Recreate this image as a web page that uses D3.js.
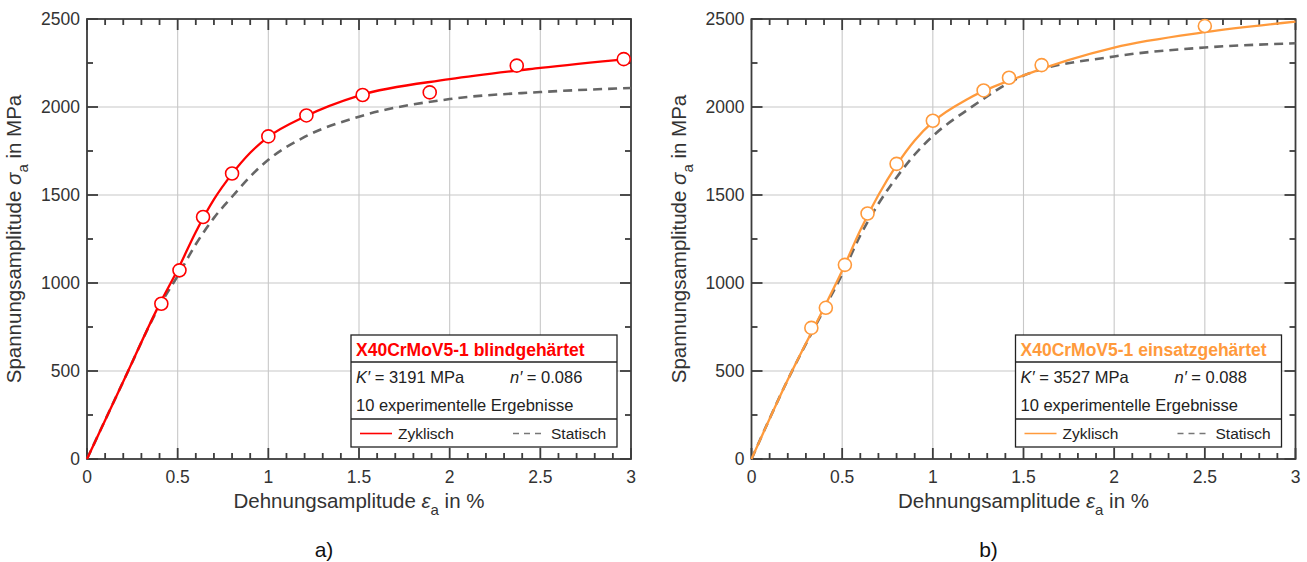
<!DOCTYPE html>
<html>
<head>
<meta charset="utf-8">
<script src="https://cdn.jsdelivr.net/npm/d3@7"></script>
<style>
  body { margin: 0; background: #fff; }
  text { font-family: "Liberation Sans", Arial, sans-serif; }
</style>
</head>
<body>
<script>
// values (strain in %, stress in MPa)
const xTicks = [0, 0.5, 1, 1.5, 2, 2.5, 3]
const yTicks = [0, 500, 1000, 1500, 2000, 2500]

// a) blindgehaertet
const aPointsEps = [0.41, 0.51, 0.64, 0.80, 1.00, 1.21, 1.52, 1.89, 2.37, 2.96]
const aPointsSig = [882, 1072, 1375, 1622, 1833, 1952, 2068, 2083, 2235, 2272]
const aCycEps = [0, 0.2, 0.4, 0.5, 0.6, 0.7, 0.8, 0.9, 1.0, 1.2, 1.5, 2.0, 2.5, 3.0]
const aCycSig = [0, 440, 880, 1075, 1290, 1475, 1620, 1740, 1830, 1945, 2065, 2158, 2222, 2275]
const aStatEps = [0, 0.2, 0.4, 0.5, 0.6, 0.7, 0.8, 0.9, 1.0, 1.2, 1.5, 2.0, 2.5, 3.0]
const aStatSig = [0, 440, 870, 1040, 1220, 1370, 1490, 1605, 1700, 1830, 1945, 2045, 2085, 2108]

// b) einsatzgehaertet
const bPointsEps = [0.33, 0.41, 0.515, 0.64, 0.80, 1.00, 1.28, 1.42, 1.60, 2.50]
const bPointsSig = [745, 859, 1103, 1395, 1677, 1922, 2094, 2166, 2238, 2460]
const bCycEps = [0, 0.2, 0.4, 0.5, 0.6, 0.7, 0.8, 0.9, 1.0, 1.2, 1.5, 2.0, 2.5, 3.0]
const bCycSig = [0, 450, 860, 1070, 1300, 1500, 1670, 1810, 1915, 2050, 2180, 2338, 2425, 2485]
const bStatEps = [0, 0.2, 0.4, 0.5, 0.6, 0.7, 0.8, 0.9, 1.0, 1.2, 1.5, 2.0, 2.5, 3.0]
const bStatSig = [0, 450, 850, 1050, 1270, 1450, 1600, 1730, 1835, 1990, 2178, 2287, 2338, 2362]

const width = 1307, height = 562
const svg = d3.select("body").append("svg").attr("width", width).attr("height", height)

const panels = [
  {left: 87, label: "a)", color: "#ff0000", title: "X40CrMoV5-1 blindgehärtet", K: "3191", n: "0.086",
   pe: aPointsEps, ps: aPointsSig, ce: aCycEps, cs: aCycSig, se: aStatEps, ss: aStatSig},
  {left: 751.5, label: "b)", color: "#ff9a3c", title: "X40CrMoV5-1 einsatzgehärtet", K: "3527", n: "0.088",
   pe: bPointsEps, ps: bPointsSig, ce: bCycEps, cs: bCycSig, se: bStatEps, ss: bStatSig}
]

const plotTop = 19, pw = 544, ph = 440

panels.forEach(p => drawPanel(p))

function drawPanel(p) {
  const g = svg.append("g").attr("transform", `translate(${p.left},${plotTop})`)
  const x = d3.scaleLinear().domain([0, 3]).range([0, pw])
  const y = d3.scaleLinear().domain([0, 2500]).range([ph, 0])
  const axisCol = "#3c3c3c"

  // grid
  g.append("g").selectAll("line").data(xTicks.slice(1, -1)).enter().append("line")
    .attr("x1", d => x(d)).attr("x2", d => x(d)).attr("y1", 0).attr("y2", ph)
    .attr("stroke", "#c8c8c8").attr("stroke-width", 1.1)
  g.append("g").selectAll("line").data(yTicks.slice(1, -1)).enter().append("line")
    .attr("y1", d => y(d)).attr("y2", d => y(d)).attr("x1", 0).attr("x2", pw)
    .attr("stroke", "#c8c8c8").attr("stroke-width", 1.1)

  // inward ticks on all four sides
  const xMinor = d3.range(1, 30).filter(i => i % 5 !== 0).map(i => i / 10)
  const yMinor = d3.range(250, 2500, 500)
  const xTickList = xTicks.map(v => [v, 11]).concat(xMinor.map(v => [v, 6]))
  const yTickList = yTicks.map(v => [v, 11]).concat(yMinor.map(v => [v, 6]))
  const tk = g.append("g")
  const tick = sel => sel.attr("stroke", axisCol).attr("stroke-width", 1.8)
  tk.selectAll(".xb").data(xTickList).enter().append("line").attr("class", "xb")
    .attr("x1", d => x(d[0])).attr("x2", d => x(d[0])).attr("y1", ph).attr("y2", d => ph - d[1]).call(tick)
  tk.selectAll(".xt").data(xTickList).enter().append("line").attr("class", "xt")
    .attr("x1", d => x(d[0])).attr("x2", d => x(d[0])).attr("y1", 0).attr("y2", d => d[1]).call(tick)
  tk.selectAll(".yl").data(yTickList).enter().append("line").attr("class", "yl")
    .attr("y1", d => y(d[0])).attr("y2", d => y(d[0])).attr("x1", 0).attr("x2", d => d[1]).call(tick)
  tk.selectAll(".yr").data(yTickList).enter().append("line").attr("class", "yr")
    .attr("y1", d => y(d[0])).attr("y2", d => y(d[0])).attr("x1", pw).attr("x2", d => pw - d[1]).call(tick)

  // tick labels
  g.append("g").selectAll("text").data(xTicks).enter().append("text")
    .attr("x", d => x(d)).attr("y", ph + 24).attr("text-anchor", "middle")
    .attr("font-size", 17.5).attr("fill", "#333").text(d3.format("~g"))
  g.append("g").selectAll("text").data(yTicks).enter().append("text")
    .attr("x", -7).attr("y", d => y(d)).attr("dy", "0.36em").attr("text-anchor", "end")
    .attr("font-size", 17.5).attr("fill", "#333").text(d3.format("d"))

  g.append("rect").attr("width", pw).attr("height", ph)
    .attr("fill", "none").attr("stroke", axisCol).attr("stroke-width", 1.8)

  // curves
  const line = d3.line().x(d => x(d[0])).y(d => y(d[1])).curve(d3.curveMonotoneX)
  g.append("path").datum(d3.zip(p.se, p.ss)).attr("d", line)
    .attr("fill", "none").attr("stroke", "#666").attr("stroke-width", 2.6).attr("stroke-dasharray", "9,6")
  g.append("path").datum(d3.zip(p.ce, p.cs)).attr("d", line)
    .attr("fill", "none").attr("stroke", p.color).attr("stroke-width", 2.3)

  // experimental points
  g.append("g").selectAll("circle").data(d3.zip(p.pe, p.ps)).enter().append("circle")
    .attr("cx", d => x(d[0])).attr("cy", d => y(d[1])).attr("r", 6.5)
    .attr("fill", "#fff").attr("stroke", p.color).attr("stroke-width", 1.6)

  // axis titles
  const xTitle = g.append("text").attr("x", pw / 2).attr("y", ph + 49)
    .attr("text-anchor", "middle").attr("font-size", 20.5).attr("fill", "#333")
  xTitle.append("tspan").text("Dehnungsamplitude ")
  xTitle.append("tspan").attr("font-style", "italic").text("ε")
  xTitle.append("tspan").attr("font-size", 15).attr("dy", 7).text("a")
  xTitle.append("tspan").attr("dy", -7).text(" in %")

  const yTitle = g.append("text").attr("transform", `translate(-66,${ph / 2}) rotate(-90)`)
    .attr("text-anchor", "middle").attr("font-size", 20.5).attr("fill", "#333")
  yTitle.append("tspan").text("Spannungsamplitude ")
  yTitle.append("tspan").attr("font-style", "italic").text("σ")
  yTitle.append("tspan").attr("font-size", 15).attr("dy", 7).text("a")
  yTitle.append("tspan").attr("dy", -7).text(" in MPa")

  // panel label
  g.append("text").attr("x", pw / 2 - 35).attr("y", 557 - plotTop)
    .attr("text-anchor", "middle").attr("font-size", 21).attr("fill", "#111")
    .attr("font-family", "Noto Sans, sans-serif").text(p.label)

  // legend box
  const lw = 266, lh = 112
  const lg = g.append("g").attr("transform", `translate(${pw - 14 - lw},${ph - 12 - lh})`)
  lg.append("rect").attr("width", lw).attr("height", lh).attr("fill", "#fff").attr("stroke", "#222").attr("stroke-width", 1.3)
  lg.append("line").attr("x1", 0).attr("x2", lw).attr("y1", 27).attr("y2", 27).attr("stroke", "#222").attr("stroke-width", 1.3)
  lg.append("line").attr("x1", 0).attr("x2", lw).attr("y1", 84).attr("y2", 84).attr("stroke", "#222").attr("stroke-width", 1.3)
  lg.append("text").attr("x", 5).attr("y", 21).attr("font-size", 17.5).attr("font-weight", "bold")
    .attr("fill", p.color).text(p.title)

  const kt = lg.append("text").attr("x", 5).attr("y", 48).attr("font-size", 16.5).attr("fill", "#222")
  kt.append("tspan").attr("font-style", "italic").text("K′")
  kt.append("tspan").text(" = " + p.K + " MPa")
  const nt = lg.append("text").attr("x", 159).attr("y", 48).attr("font-size", 16.5).attr("fill", "#222")
  nt.append("tspan").attr("font-style", "italic").text("n′")
  nt.append("tspan").text(" = " + p.n)
  lg.append("text").attr("x", 5).attr("y", 76).attr("font-size", 16.5).attr("fill", "#222").text(p.pe.length + " experimentelle Ergebnisse")

  lg.append("line").attr("x1", 9).attr("x2", 41).attr("y1", 98.5).attr("y2", 98.5).attr("stroke", p.color).attr("stroke-width", 1.6)
  lg.append("text").attr("x", 47).attr("y", 104).attr("font-size", 15.5).attr("fill", "#222").text("Zyklisch")
  lg.append("line").attr("x1", 162).attr("x2", 193).attr("y1", 98.5).attr("y2", 98.5).attr("stroke", "#777").attr("stroke-width", 1.6).attr("stroke-dasharray", "6,5")
  lg.append("text").attr("x", 200).attr("y", 104).attr("font-size", 15.5).attr("fill", "#222").text("Statisch")
}
</script>
</body>
</html>
